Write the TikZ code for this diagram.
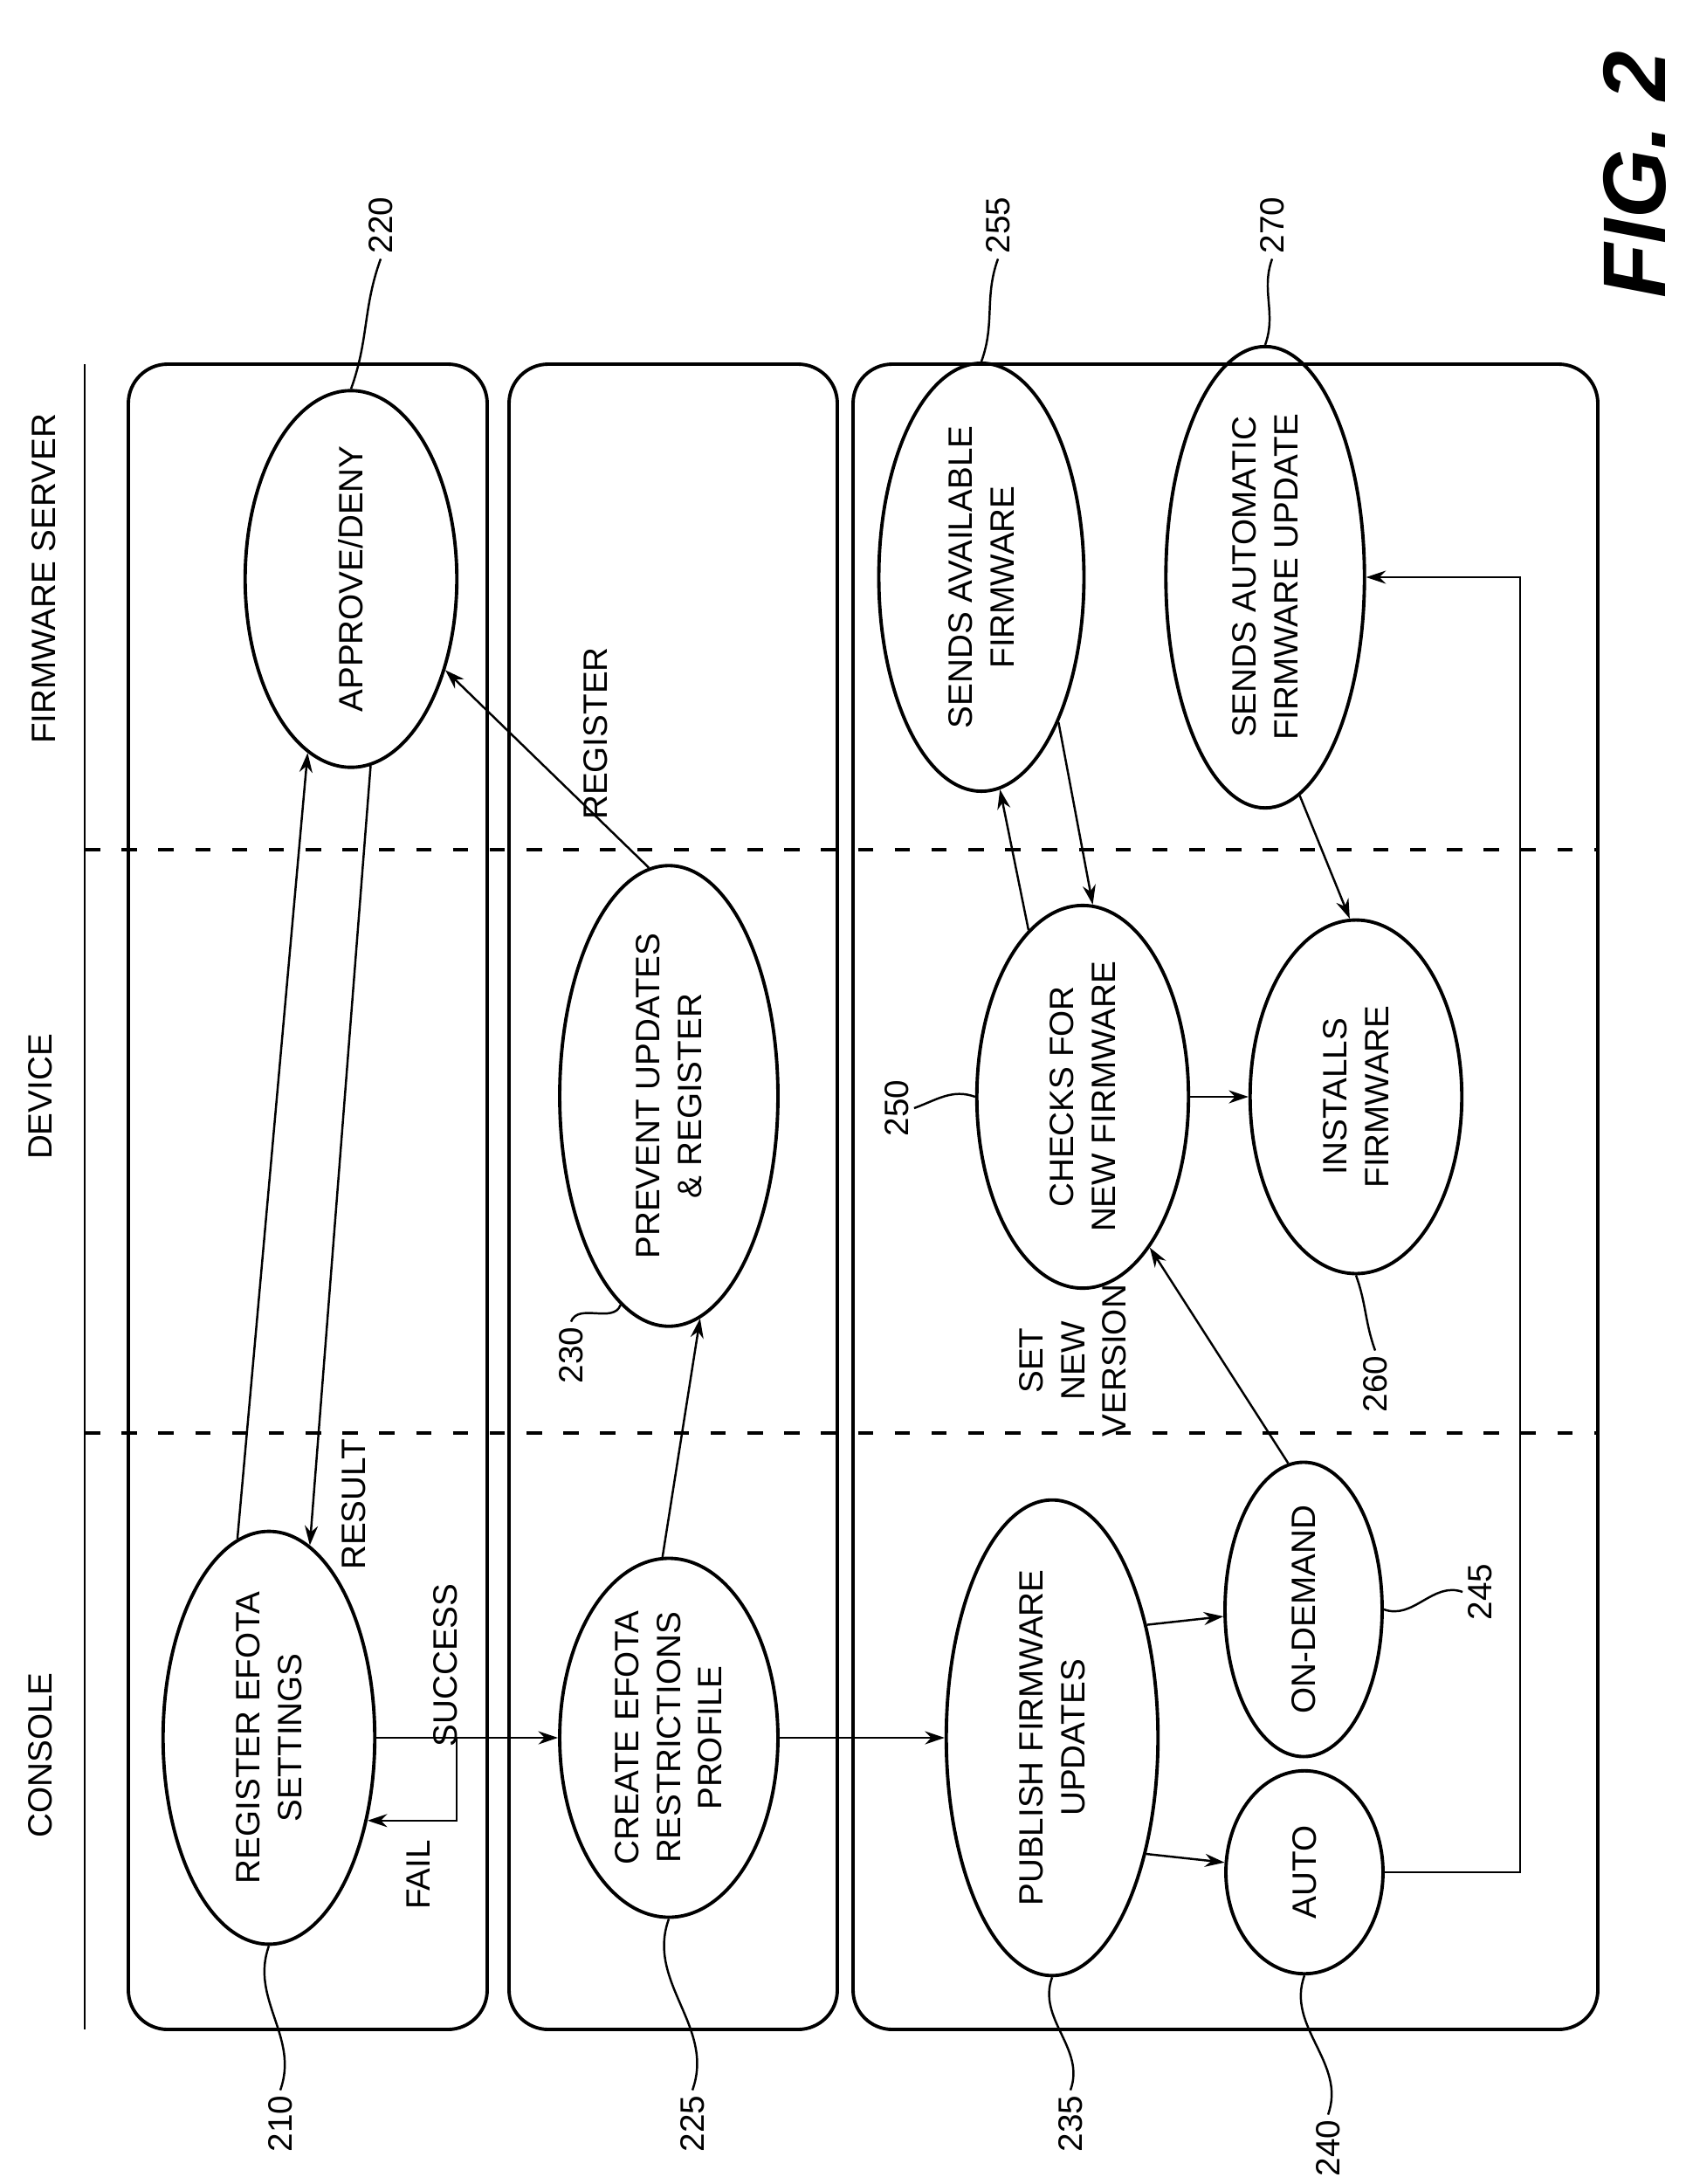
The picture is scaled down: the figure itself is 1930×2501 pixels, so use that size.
\documentclass[tikz,border=0pt]{standalone}
\usepackage{fontspec}
\setmainfont{Liberation Sans}
\usetikzlibrary{shapes.geometric,arrows.meta}
\begin{document}
\begin{tikzpicture}[x=0.02cm, y=-0.02cm,
    txt/.style={rotate=90, align=center, font=\fontsize{22}{27}\selectfont},
    proc/.style={txt, ellipse, draw, line width=2.2pt, inner sep=0pt,
        minimum width=8.1cm, minimum height=4.85cm},
    sproc/.style={proc, minimum width=4.65cm, minimum height=3.6cm},
    panel/.style={draw, line width=2.2pt, rounded corners=0.9cm},
    arr/.style={line width=1.4pt, -{Stealth[length=0.45cm, width=0.3cm]}},
    lead/.style={line width=1.4pt}]
    \useasboundingbox (0,0) rectangle (1930,2501);
    % Lanes and headers
    \draw[line width=1.6pt] (97,417) -- (97,2324);
    \draw[line width=2pt, dashed, dash pattern=on 10pt off 14pt] (97,973) -- (1830,973);
    \draw[line width=2pt, dashed, dash pattern=on 10pt off 14pt] (97,1641) -- (1830,1641);
    \node[txt] (hcon) at (46,2010) {CONSOLE};
    \node[txt] (hdev) at (46,1256) {DEVICE};
    \node[txt] (hsrv) at (50,663) {FIRMWARE SERVER};
    % Panels
    \draw[panel] (147,417) rectangle (558,2324);
    \draw[panel] (583,417) rectangle (959,2324);
    \draw[panel] (977,417) rectangle (1830,2324);
    % Row 1: registration
    \node[proc] (reg) at (308,1990) {REGISTER EFOTA\\SETTINGS};
    \node[proc] (app) at (402,663) {APPROVE/DENY};
    \draw[arr] (reg.9) -- (app.166);
    \draw[arr] (app.186) -- (reg.-12);
    \node[txt] (tres) at (405,1723) {RESULT};
    \node[txt] (tsuc) at (510,1907) {SUCCESS};
    \node[txt] (tfai) at (479,2147) {FAIL};
    \coordinate (fk) at (523,1990);
    % Row 2: restrictions
    \node[proc, minimum height=5cm] (cre) at (766,1990) {CREATE EFOTA\\RESTRICTIONS\\PROFILE};
    \node[proc, minimum height=5cm] (prv) at (766,1255) {PREVENT UPDATES\\\& REGISTER};
    \draw[arr] (reg.-90) -- (cre.90);
    \draw[arr] (fk) |- (reg.-130);
    \draw[arr] (cre.2.5) -- (prv.-172);
    \draw[arr] (prv.5) -- (app.-134);
    \node[txt] (treg) at (682,840) {REGISTER};
    % Row 3: firmware updates
    \node[proc] (pub) at (1205,1990) {PUBLISH FIRMWARE\\UPDATES};
    \node[sproc] (aut) at (1494,2144) {AUTO};
    \node[sproc] (ond) at (1493,1843) {ON-DEMAND};
    \node[proc] (chk) at (1240,1256) {CHECKS FOR\\NEW FIRMWARE};
    \node[proc] (ins) at (1553,1256) {INSTALLS\\FIRMWARE};
    \node[proc, minimum width=8.15cm, minimum height=4.7cm] (sav) at (1124,661) {SENDS AVAILABLE\\FIRMWARE};
    \node[proc, minimum width=8.15cm, minimum height=4.55cm] (sau) at (1449,661) {SENDS AUTOMATIC\\FIRMWARE UPDATE};
    \node[txt] (tset) at (1229,1558) {SET\\NEW\\VERSION};
    \coordinate (ac) at (1741,1400);
    \draw[arr] (cre) -- (pub);
    \draw[arr] (pub.-141) -- (aut.83);
    \draw[arr] (pub.-40) -- (ond.95);
    \draw[arr] (ond.6) -- (chk.-156);
    \draw[arr] (chk.18) -- (sav.-175);
    \draw[arr] (sav.-152) -- (chk.-3);
    \draw[arr] (chk) -- (ins);
    \draw[arr] (sau.-171) -- (ins.2);
    \draw[arr] (aut.-90) -| (ac) |- (sau.-90);
    % Reference numerals
    \node[txt] (l210) at (321,2432) {210};
    \node[txt] (l225) at (793,2432) {225};
    \node[txt] (l235) at (1226,2432) {235};
    \node[txt] (l240) at (1521,2460) {240};
    \node[txt] (l245) at (1695,1823) {245};
    \node[txt] (l230) at (654,1552) {230};
    \node[txt] (l250) at (1027,1269) {250};
    \node[txt] (l260) at (1575,1585) {260};
    \node[txt] (l220) at (436,258) {220};
    \node[txt] (l255) at (1143,258) {255};
    \node[txt] (l270) at (1457,258) {270};
    \draw[lead] (l210.east) to[out=70,in=-110] (reg.180);
    \draw[lead] (l225.east) to[out=70,in=-110] (cre.180);
    \draw[lead] (l235.east) to[out=70,in=-110] (pub.180);
    \draw[lead] (l240.east) to[out=70,in=-110] (aut.180);
    \draw[lead] (l245.north) to[out=160,in=-20] (ond.-90);
    \draw[lead] (l230.east) to[out=70,in=-110] (prv.167);
    \draw[lead] (l250.south) to[out=20,in=160] (chk.90);
    \draw[lead] (l260.east) to[out=110,in=-70] (ins.180);
    \draw[lead] (l220.west) to[out=-110,in=70] (app.0);
    \draw[lead] (l255.west) to[out=-110,in=70] (sav.0);
    \draw[lead] (l270.west) to[out=-110,in=70] (sau.0);
    % Figure caption
    \node[rotate=90, font=\fontsize{58}{60}\selectfont\bfseries\itshape] (fig) at (1872,200) {FIG. 2};
\end{tikzpicture}
\end{document}
